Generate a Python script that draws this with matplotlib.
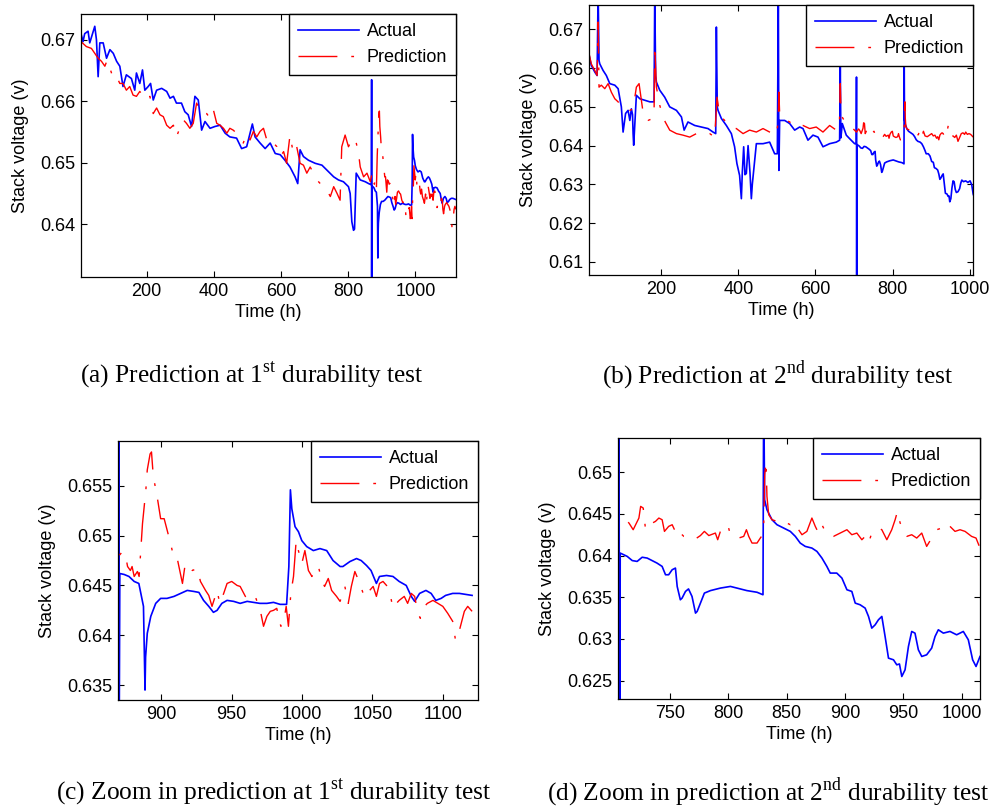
import numpy as np
import matplotlib
matplotlib.use('Agg')
import matplotlib.pyplot as plt
from matplotlib.ticker import MultipleLocator, FuncFormatter

plt.rcParams['font.family'] = ['Liberation Sans', 'DejaVu Sans']
plt.rcParams['mathtext.fontset'] = 'custom'
plt.rcParams['mathtext.rm'] = 'Liberation Serif'
plt.rcParams['lines.scale_dashes'] = False

# ---- 1st durability test : actual stack voltage ----
t1_act = [6, 11, 16, 26, 31, 46, 51, 56, 61, 71, 81, 91, 101, 111, 120.5, 130, 140, 155, 165,
          170, 180, 188, 195, 205, 212, 220, 230, 245, 260, 270, 280, 289, 304, 314, 324, 334,
          344, 354, 364, 374, 389, 404, 419, 434, 448, 468, 483, 498, 515, 523, 538, 553, 568,
          583, 598, 612, 627, 642, 650, 657, 667, 682, 702, 722, 742, 757, 771, 786, 801, 806,
          811, 816, 819, 824, 836, 851, 861, 869.5, 869.9, 870.0, 870.5,
          873.6, 877, 880.7, 884, 885.4, 887.3, 888.4, 888.8, 890, 892.5, 896, 899.5, 904, 909,
          913.7, 918.4, 923, 926.7, 930, 933.7, 937, 939.6, 943, 946.7, 951.4, 956, 961, 965.6,
          970, 975, 979.7, 984.4, 989, 990.6, 991.7, 992.7, 995, 997.4, 999.8, 1003.3, 1008,
          1012.7, 1017.5, 1022, 1027, 1029, 1034, 1038.7, 1042, 1045.8, 1049, 1052.8, 1055,
          1060, 1064.6, 1069, 1074, 1077.6, 1080, 1083.5, 1088, 1091.7, 1095, 1098.8, 1102,
          1107, 1111.8, 1116.5, 1120.8]
v1_act = [0.6708, 0.6697, 0.6710, 0.6714, 0.6695, 0.6722, 0.6700, 0.6640, 0.6695, 0.6695,
          0.6670, 0.6684, 0.6678, 0.6665, 0.6657, 0.6624, 0.6643, 0.6637, 0.6618, 0.6646,
          0.6629, 0.6651, 0.6618, 0.6624, 0.6629, 0.6602, 0.6618, 0.6621, 0.6616, 0.6605,
          0.6608, 0.6597, 0.6597, 0.6583, 0.6578, 0.6559, 0.6608, 0.6602, 0.6553, 0.6567,
          0.6556, 0.6559, 0.6561, 0.6548, 0.6542, 0.6540, 0.6523, 0.6526, 0.6563, 0.6542,
          0.6532, 0.6523, 0.6532, 0.6515, 0.6513, 0.6504, 0.6493, 0.6477, 0.6466, 0.6521,
          0.6510, 0.6504, 0.6499, 0.6496, 0.6485, 0.6477, 0.6472, 0.6469, 0.6461, 0.6450,
          0.6404, 0.6390, 0.6392, 0.6483, 0.6472, 0.6469, 0.6466, 0.6464, 0.6635, 0.6280,
          0.6462,
          0.6461, 0.6459, 0.6454, 0.6452, 0.6442, 0.6429, 0.6345, 0.6378, 0.6402, 0.6419,
          0.6432, 0.6437, 0.6437, 0.6439, 0.6442, 0.6445, 0.6444, 0.6443, 0.6435, 0.6429,
          0.6423, 0.6425, 0.6432, 0.6435, 0.6434, 0.6432, 0.6434, 0.6433, 0.6432, 0.6432,
          0.6433, 0.6431, 0.6431, 0.6469, 0.6546, 0.6527, 0.6509, 0.6504, 0.6495, 0.6489,
          0.6485, 0.6487, 0.6485, 0.6475, 0.6469, 0.6469, 0.6474, 0.6477, 0.6475, 0.6470,
          0.6465, 0.6452, 0.6459, 0.6460, 0.6459, 0.6454, 0.6450, 0.6439, 0.6434, 0.6442,
          0.6445, 0.6442, 0.6435, 0.6437, 0.6440, 0.6442, 0.6442, 0.6441, 0.6440]

# ---- 1st durability test : predicted stack voltage ----
t1_pred = [5, 21, 36, 46, 56, 66, 76, 83, 91, 101, 111, 120.5, 130, 140, 150, 160, 170, 180,
           190, 200, 210, 220, 230, 240, 250, 260, 270, 280, 289, 299, 309, 319, 329, 339, 349,
           359, 369, 379, 389, 399, 409, 419, 429, 439, 448, 458, 468, 478, 488, 498, 508, 518,
           528, 538, 548, 558, 568, 578, 588, 598, 608, 617, 627, 637, 647, 657, 667, 677, 687,
           697, 707, 717, 727, 737, 747, 757, 767, 776, 781, 791, 801, 811, 821, 831, 836, 846,
           856, 866,
           870, 872.4, 874.7, 876, 878, 879.2, 880.7, 883, 884.2, 886.6, 889, 890, 892, 893,
           894.3, 896.7, 899.5, 902, 904, 906.6, 909, 911.3, 915, 917, 919.6, 922, 925.5, 927.8,
           931.4, 933.7, 936, 939.6, 941.5, 944.3, 946.7, 950, 953.8, 956, 959.7, 963, 966.7,
           970.3, 972.6, 975, 977.4, 979.7, 982, 984.9, 986.8, 988.7, 990.3, 992, 993.9, 995.8,
           997.4, 999.8, 1002, 1004.5, 1007, 1009, 1011.6, 1014, 1016, 1018.6, 1021, 1024.5,
           1027, 1030.4, 1032.8, 1035, 1037.5, 1041, 1043.4, 1045.8, 1048, 1050.5, 1052.8,
           1055, 1057.5, 1060, 1062, 1064.6, 1067, 1069, 1072.6, 1075, 1077.6, 1080, 1082,
           1084, 1087, 1089, 1093, 1096.5, 1100, 1103.5, 1107, 1109, 1111.8, 1115.3, 1117.7,
           1120.8]
v1_pred = [0.6697, 0.6689, 0.6686, 0.6678, 0.6670, 0.6665, 0.6657, 0.6667, 0.6654, 0.6637,
           0.6640, 0.6629, 0.6629, 0.6618, 0.6624, 0.6610, 0.6608, 0.6616, 0.6608, 0.6602,
           0.6608, 0.6580, 0.6589, 0.6578, 0.6575, 0.6561, 0.6556, 0.6561, 0.6542, 0.6556,
           0.6570, 0.6564, 0.6556, 0.6564, 0.6597, 0.6586, 0.6578, 0.6580, 0.6572, 0.6586,
           0.6564, 0.6561, 0.6556, 0.6548, 0.6556, 0.6553, 0.6548, 0.6540, 0.6532, 0.6548,
           0.6537, 0.6551, 0.6542, 0.6551, 0.6556, 0.6537, 0.6540, 0.6532, 0.6526, 0.6510,
           0.6518, 0.6499, 0.6545, 0.6515, 0.6526, 0.6499, 0.6496, 0.6483, 0.6493, 0.6483,
           0.6472, 0.6466, 0.6461, 0.6455, 0.6445, 0.6461, 0.6450, 0.6439, 0.6526, 0.6545,
           0.6526, 0.6537, 0.6540, 0.6515, 0.6493, 0.6477, 0.6483, 0.6469,
           0.6480, 0.6484, 0.6479, 0.6469, 0.6465, 0.6469, 0.6459, 0.6464, 0.6459, 0.6512,
           0.6546, 0.6566, 0.6582, 0.6584, 0.6559, 0.6542, 0.6517, 0.6517, 0.6506, 0.6492,
           0.6477, 0.6477, 0.6452, 0.6472, 0.6470, 0.6465, 0.6467, 0.6454, 0.6445, 0.6440,
           0.6429, 0.6445, 0.6432, 0.6442, 0.6452, 0.6454, 0.6450, 0.6449, 0.6439, 0.6435,
           0.6439, 0.6425, 0.6409, 0.6419, 0.6424, 0.6425, 0.6427, 0.6409, 0.6412, 0.6429,
           0.6409, 0.6442, 0.6459, 0.6495, 0.6485, 0.6472, 0.6485, 0.6465, 0.6459, 0.6467,
           0.6469, 0.6455, 0.6449, 0.6457, 0.6445, 0.6439, 0.6434, 0.6449, 0.6432, 0.6449,
           0.6464, 0.6452, 0.6442, 0.6449, 0.6445, 0.6449, 0.6439, 0.6452, 0.6454, 0.6450,
           0.6445, 0.6427, 0.6432, 0.6435, 0.6439, 0.6432, 0.6442, 0.6439, 0.6424, 0.6417,
           0.6429, 0.6432, 0.6435, 0.6432, 0.6429, 0.6422, 0.6414, 0.6395, 0.6405, 0.6424,
           0.6429, 0.6424]

# ---- 2nd durability test : actual stack voltage ----
t2_act = [12.3, 18, 27, 33, 35.7, 38, 40, 48.6, 57, 66, 79, 87.6, 96, 100.5, 107, 113.5, 118,
          122, 125, 126.5, 128, 135, 144, 157, 170, 181, 182.7, 185, 187, 195.7, 208.6, 221.6,
          239, 252, 259, 269, 286.5, 303.8, 321, 334, 341, 342.7, 345, 347, 355.7, 368.6,
          381.6, 390, 396, 403, 407.6, 410, 413.6, 417, 420.5, 425, 430, 433.5, 436, 439.6,
          446.5, 463.8, 481, 494, 501, 503.6, 505, 507, 520, 533, 546, 559, 567.6, 580.5,
          593.5, 606.5, 619.5, 636.8, 654, 662.7, 664.4, 666, 669.6, 680, 688.6, 701.6,
          706.0, 706.5, 707.0, 707.5,
          713.5, 717.8, 722, 726.3, 730.6, 734.9, 739, 743.4, 746.3, 749, 752, 754.8, 756.3,
          759, 760.5, 763.4, 766, 769, 772, 773.4, 776.2, 779.6, 784.8, 793.3, 801.9, 807.6,
          816, 824.7, 829.8, 830.4, 831.2, 833.2, 837.5, 841.8, 847.5, 853.2, 857.5, 861.7,
          866, 871.7, 876, 880.3, 884.5, 887.4, 893, 897.4, 901.7, 905.9, 908.8, 913, 917.3,
          920.2, 923, 925.9, 928.7, 931.6, 934.4, 937.3, 941.6, 944.4, 946.7, 948.7, 951.5,
          954.4, 957.2, 960, 962.9, 965.8, 970, 974.3, 977.2, 980, 984.3, 990, 995.7, 1001.4,
          1005.7, 1009.4, 1012.3, 1015.7]
v2_act = [0.6633, 0.6607, 0.6590, 0.6581, 0.6800, 0.6620, 0.6611, 0.6594, 0.6581, 0.6560,
          0.6556, 0.6547, 0.6500, 0.6435, 0.6483, 0.6491, 0.6465, 0.6495, 0.6480, 0.6431,
          0.6401, 0.6530, 0.6521, 0.6517, 0.6513, 0.6513, 0.6800, 0.6580, 0.6564, 0.6543,
          0.6525, 0.6500, 0.6491, 0.6474, 0.6440, 0.6461, 0.6452, 0.6448, 0.6444, 0.6435,
          0.6431, 0.6706, 0.6500, 0.6491, 0.6470, 0.6452, 0.6431, 0.6397, 0.6354, 0.6323,
          0.6263, 0.6330, 0.6397, 0.6325, 0.6328, 0.6400, 0.6330, 0.6263, 0.6300, 0.6336,
          0.6405, 0.6405, 0.6409, 0.6379, 0.6379, 0.6800, 0.6336, 0.6465, 0.6465, 0.6457,
          0.6440, 0.6448, 0.6444, 0.6414, 0.6427, 0.6422, 0.6397, 0.6405, 0.6409, 0.6414,
          0.6607, 0.6420, 0.6457, 0.6427, 0.6418, 0.6405,
          0.6405, 0.6577, 0.6000, 0.6403,
          0.6399, 0.6394, 0.6393, 0.6398, 0.6397, 0.6394, 0.6391, 0.6387, 0.6377, 0.6377,
          0.6383, 0.6385, 0.6363, 0.6347, 0.6349, 0.6357, 0.6360, 0.6351, 0.6331, 0.6333,
          0.6343, 0.6355, 0.6358, 0.6361, 0.6363, 0.6361, 0.6358, 0.6356, 0.6353, 0.6603,
          0.6467, 0.6455, 0.6443, 0.6437, 0.6433, 0.6429, 0.6423, 0.6415, 0.6411, 0.6409,
          0.6405, 0.6397, 0.6387, 0.6379, 0.6379, 0.6373, 0.6359, 0.6357, 0.6343, 0.6341,
          0.6337, 0.6327, 0.6313, 0.6317, 0.6323, 0.6327, 0.6303, 0.6277, 0.6275, 0.6269,
          0.6270, 0.6255, 0.6263, 0.6291, 0.6309, 0.6307, 0.6287, 0.6279, 0.6281, 0.6289,
          0.6303, 0.6311, 0.6307, 0.6309, 0.6305, 0.6309, 0.6299, 0.6275, 0.6267, 0.6279]

# ---- 2nd durability test : predicted stack voltage ----
t2_pred = [12.3, 18, 27, 33, 35.7, 38, 44, 53, 61.6, 70, 79, 87.6, 96, 105, 118, 126.5, 135,
           142, 148, 154, 165, 178, 181, 182.7, 187, 195.7, 204.3, 210, 221.6, 239, 256, 273.5,
           290.8, 308, 325.4, 338.4, 344.4, 351.4, 364.3, 377.3, 394.6, 412, 429, 446.5,
           463.8, 481, 498.4, 503, 505, 507, 515.7, 533, 550, 567.6, 584.9, 602, 619.5, 636.8,
           654, 662, 664.4, 666.5, 671.4, 684.3, 697.3,
           706.4, 710.7, 712, 715, 718.6, 723.5, 725, 727.2, 729.2, 732, 735, 737.7, 740.6,
           743.4, 745.4, 749, 752, 754, 756.3, 759, 762, 769, 772, 776.2, 779.6, 783.4, 789,
           791, 793.3, 796.8, 799.6, 801.9, 804.7, 809, 813.3, 815.6, 817.6, 820.4, 824.7,
           827.5, 829.5, 830.4, 831.3, 832.4, 833.2, 834.7, 837.5, 841.8, 846, 850.3, 853.2,
           857.5, 860.3, 863.2, 867.4, 871.7, 874.6, 877.4, 880.3, 884.5, 890.2, 896, 901.7,
           905.9, 910.2, 914.5, 917.3, 920.2, 923, 925.9, 928.7, 931.6, 935.9, 940.1, 943,
           945, 947.3, 950, 953, 957.2, 961.5, 965.8, 970, 974.3, 978.6, 982.9, 987.2, 990,
           994.3, 998.6, 1002.9, 1008.5, 1012.3, 1015.7]
v2_pred = [0.6637, 0.6611, 0.6594, 0.6581, 0.6719, 0.6551, 0.6556, 0.6547, 0.6560, 0.6538,
           0.6521, 0.6513, 0.6500, 0.6495, 0.6491, 0.6495, 0.6551, 0.6560, 0.6517, 0.6474,
           0.6465, 0.6470, 0.6490, 0.6659, 0.6551, 0.6504, 0.6474, 0.6461, 0.6440, 0.6431,
           0.6427, 0.6422, 0.6431, 0.6427, 0.6431, 0.6422, 0.6525, 0.6478, 0.6465, 0.6448,
           0.6444, 0.6431, 0.6440, 0.6435, 0.6444, 0.6435, 0.6427, 0.6460, 0.6538, 0.6482,
           0.6470, 0.6461, 0.6448, 0.6452, 0.6444, 0.6448, 0.6435, 0.6452, 0.6440, 0.6445,
           0.6560, 0.6480, 0.6470, 0.6452, 0.6444,
           0.6435, 0.6441, 0.6443, 0.6439, 0.6431, 0.6445, 0.6459, 0.6457, 0.6431, 0.6437,
           0.6439, 0.6441, 0.6445, 0.6443, 0.6429, 0.6435, 0.6437, 0.6431, 0.6435, 0.6427,
           0.6423, 0.6423, 0.6420, 0.6424, 0.6429, 0.6424, 0.6427, 0.6419, 0.6429, 0.6435,
           0.6437, 0.6425, 0.6423, 0.6421, 0.6423, 0.6431, 0.6423, 0.6415, 0.6415, 0.6421,
           0.6425, 0.6435, 0.6497, 0.6513, 0.6471, 0.6449, 0.6443, 0.6441, 0.6443, 0.6439,
           0.6437, 0.6440, 0.6431, 0.6425, 0.6429, 0.6445, 0.6435, 0.6427, 0.6437, 0.6425,
           0.6423, 0.6427, 0.6431, 0.6425, 0.6427, 0.6419, 0.6423, 0.6415, 0.6427, 0.6431,
           0.6433, 0.6431, 0.6419, 0.6431, 0.6443, 0.6453, 0.6439, 0.6433, 0.6423, 0.6425,
           0.6421, 0.6427, 0.6411, 0.6421, 0.6431, 0.6433, 0.6429, 0.6435, 0.6429, 0.6431,
           0.6429, 0.6423, 0.6421, 0.6409]

captions = [r'(a) Prediction at 1$^{\mathrm{st}}$ durability test',
            r'(b) Prediction at 2$^{\mathrm{nd}}$ durability test',
            r'(c) Zoom in prediction at 1$^{\mathrm{st}}$ durability test',
            r'(d) Zoom in prediction at 2$^{\mathrm{nd}}$ durability test']

W, H = 992, 811
fig = plt.figure(figsize=(W / 100, H / 100), dpi=100)

def px_axes(left, top, right, bottom):
    return fig.add_axes([left / W, 1 - bottom / H, (right - left) / W, (bottom - top) / H])

panels = [
    # box (px), xlim, ylim, xstep, ystep, which test
    ((81, 14, 456, 277), (5, 1121), (0.6314, 0.6742), 200, 0.01, 1),
    ((589, 5, 973, 275), (12, 1009), (0.6066, 0.6763), 200, 0.01, 2),
    ((118, 441, 478, 700), (869.2, 1125), (0.6335, 0.6595), 50, 0.005, 1),
    ((618, 438, 980, 699), (705.6, 1015.7), (0.6228, 0.6541), 50, 0.005, 2),
]
caption_pos = [(252, 376), (778, 376), (274, 793), (768, 793)]

fmt = FuncFormatter(lambda v, p: f'{v:g}')
dash_dot = (0, (28, 10, 2, 10))
fs = 13

for (box, xl, yl, xs, ys, test), cap, cpos in zip(panels, captions, caption_pos):
    ax = px_axes(*box)
    if test == 1:
        ta, va, tp, vp = t1_act, v1_act, t1_pred, v1_pred
    else:
        ta, va, tp, vp = t2_act, v2_act, t2_pred, v2_pred
    ax.plot(ta, va, color='#0000ff', lw=1.2, label='Actual')
    ax.plot(tp, vp, color='#ff0000', lw=1.0, linestyle=dash_dot, label='Prediction')
    ax.set_xlim(*xl)
    ax.set_ylim(*yl)
    ax.xaxis.set_major_locator(MultipleLocator(xs))
    ax.yaxis.set_major_locator(MultipleLocator(ys))
    ax.xaxis.set_major_formatter(fmt)
    ax.yaxis.set_major_formatter(fmt)
    ax.tick_params(direction='in', top=True, right=True, length=4, width=0.8,
                   labelsize=fs, pad=4)
    for s in ax.spines.values():
        s.set_linewidth(0.9)
    ax.set_xlabel('Time (h)', fontsize=fs, labelpad=3)
    ax.set_ylabel('Stack voltage (v)', fontsize=fs, labelpad=8)
    leg = ax.legend(loc='upper right', borderaxespad=0, fancybox=False, framealpha=1,
                    edgecolor='black', fontsize=fs, handlelength=3.4,
                    handletextpad=0.4, borderpad=0.5, labelspacing=0.5)
    leg.get_frame().set_linewidth(1.0)
    fig.text(cpos[0] / W, 1 - cpos[1] / H, cap, ha='center', va='center',
             family='Liberation Serif', fontsize=18.3)

fig.savefig('out.png', dpi=100)
